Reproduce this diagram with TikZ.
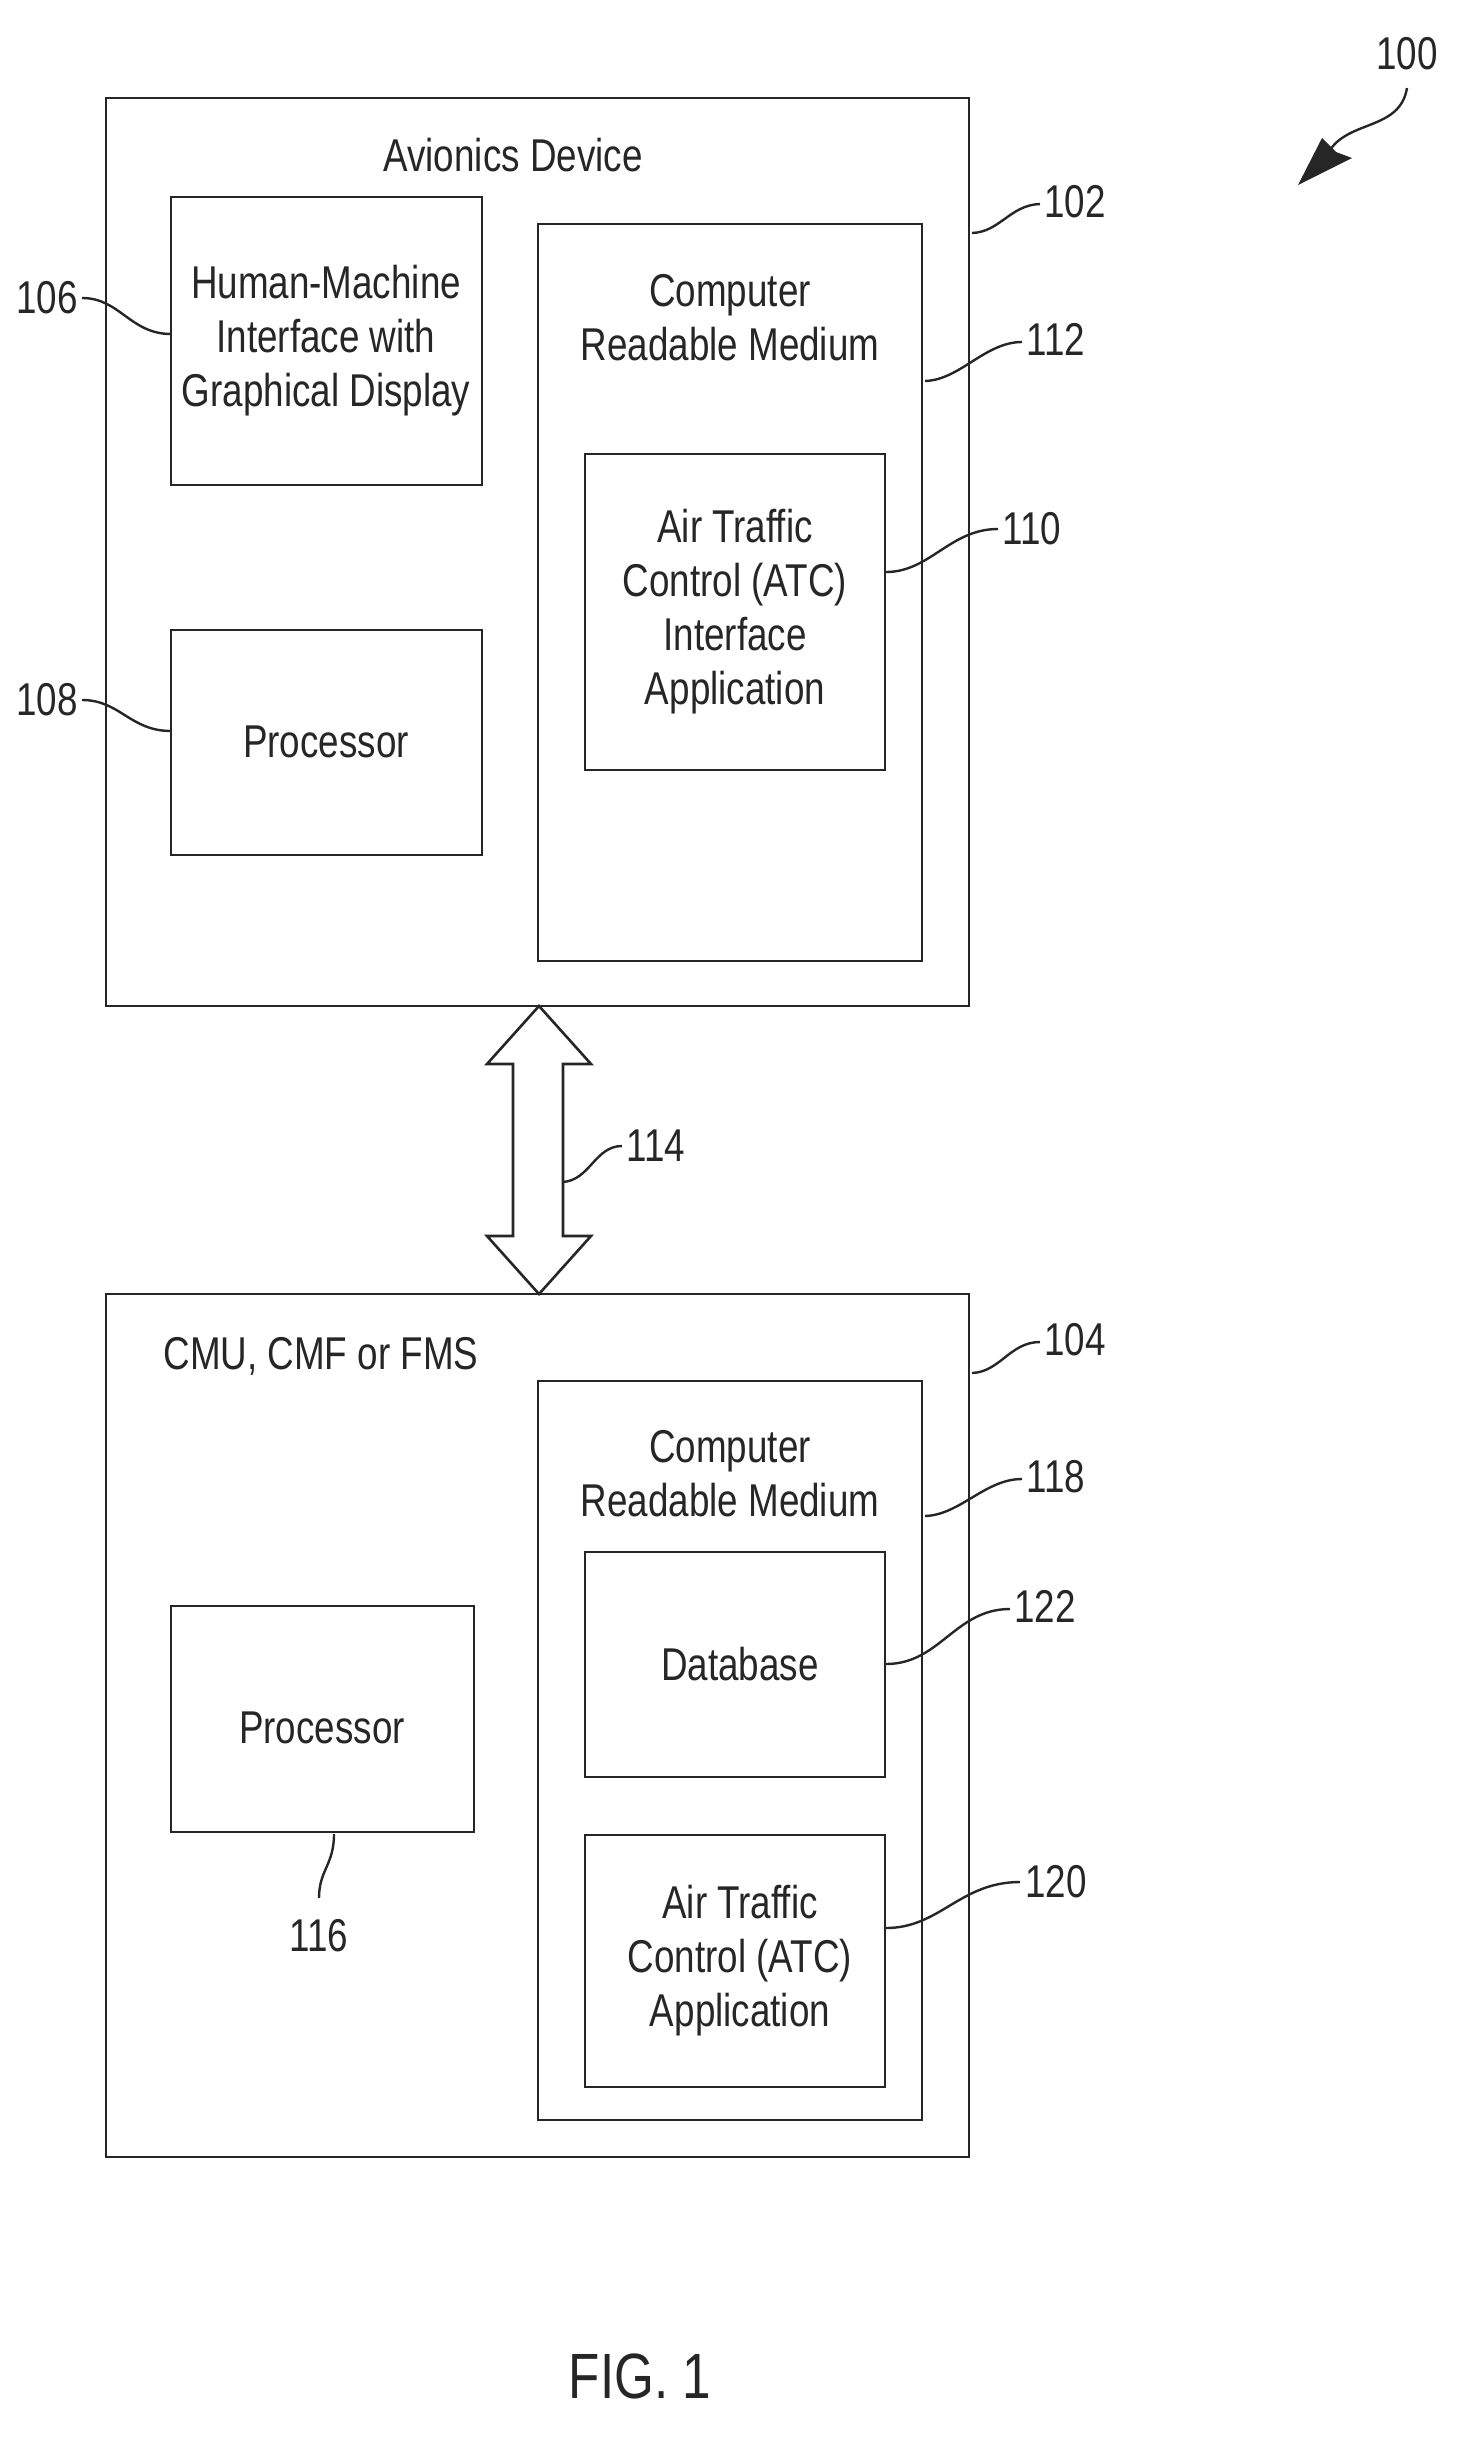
\documentclass[tikz,border=0pt]{standalone}
\usepackage{fontspec}
\setmainfont[FakeStretch=0.8]{Liberation Sans}
\begin{document}
\begin{tikzpicture}[x=1pt,y=-1pt,
  box/.style={draw=black!85,line width=2.6pt},
  txt/.style={font=\fontsize{46}{54}\selectfont,align=center,text=black!85},
  lbl/.style={font=\fontsize{46}{54}\selectfont,text=black!85},
  lead/.style={draw=black!85,line width=2.4pt}]
\useasboundingbox (0,0) rectangle (1462,2446);
% boxes
\draw[box] (106,98) rectangle (969,1006);
\node[txt] (t102) at (513,155) {Avionics Device};
\draw[box] (171,197) rectangle (482,485);
\node[txt] (hmi) at (326,341) {Human-Machine\\Interface with\\Graphical Display};
\draw[box] (171,630) rectangle (482,855);
\node[txt] (p108) at (326,742) {Processor};
\draw[box] (538,224) rectangle (922,961);
\node[txt] (crm1) at (730,318) {Computer\\Readable Medium};
\draw[box] (585,454) rectangle (885,770);
\node[txt] (atc1) at (735,612) {Air Traffic\\Control (ATC)\\Interface\\Application};
\draw[box] (106,1294) rectangle (969,2157);
\node[txt,anchor=west] (t104) at (160,1356) {CMU, CMF or FMS};
\draw[box] (538,1381) rectangle (922,2120);
\node[txt] (crm2) at (730,1474) {Computer\\Readable Medium};
\draw[box] (585,1552) rectangle (885,1777);
\node[txt] (db) at (740,1664) {Database};
\draw[box] (585,1835) rectangle (885,2087);
\node[txt] (atc2) at (740,1961) {Air Traffic\\Control (ATC)\\Application};
\draw[box] (171,1606) rectangle (474,1832);
\node[txt] (p116) at (322,1728) {Processor};
% double arrow 114
\draw[box,fill=white] (539,1006) -- (591,1064) -- (563,1064) -- (563,1236) -- (591,1236) -- (539,1294) -- (487,1236) -- (513,1236) -- (513,1064) -- (487,1064) -- cycle;
% labels
\node[lbl] (l100) at (1407,54) {100};
\draw[lead] (1407,88) .. controls (1400,130) and (1350,120) .. (1330,150);
\fill[black!85] (1298,185) -- (1352,158) -- (1336,152) -- (1322,138) -- cycle;
\node[lbl] (l102) at (1075,202) {102};
\draw[lead] (972,233) .. controls (1000,232) and (1010,205) .. (1040,204);
\node[lbl] (l106) at (47,298) {106};
\draw[lead] (82,298) .. controls (120,298) and (130,334) .. (171,334);
\node[lbl] (l112) at (1056,339) {112};
\draw[lead] (925,381) .. controls (960,380) and (985,342) .. (1022,342);
\node[lbl] (l110) at (1032,529) {110};
\draw[lead] (886,572) .. controls (930,572) and (950,529) .. (998,529);
\node[lbl] (l108) at (47,700) {108};
\draw[lead] (82,700) .. controls (120,700) and (130,731) .. (171,731);
\node[lbl] (l114) at (656,1146) {114};
\draw[lead] (563,1182) .. controls (590,1180) and (595,1146) .. (622,1146);
\node[lbl] (l104) at (1075,1340) {104};
\draw[lead] (972,1373) .. controls (1000,1372) and (1010,1342) .. (1040,1342);
\node[lbl] (l118) at (1056,1477) {118};
\draw[lead] (925,1516) .. controls (960,1515) and (985,1479) .. (1022,1479);
\node[lbl] (l122) at (1045,1606) {122};
\draw[lead] (886,1664) .. controls (940,1664) and (955,1609) .. (1010,1609);
\node[lbl] (l120) at (1056,1882) {120};
\draw[lead] (886,1928) .. controls (940,1928) and (960,1882) .. (1020,1882);
\node[lbl] (l116) at (319,1936) {116};
\draw[lead] (334,1834) .. controls (334,1865) and (319,1870) .. (319,1898);
\node[font=\fontsize{64}{70}\selectfont,text=black!85] (fig) at (640,2376) {FIG. 1};
\end{tikzpicture}
\end{document}
